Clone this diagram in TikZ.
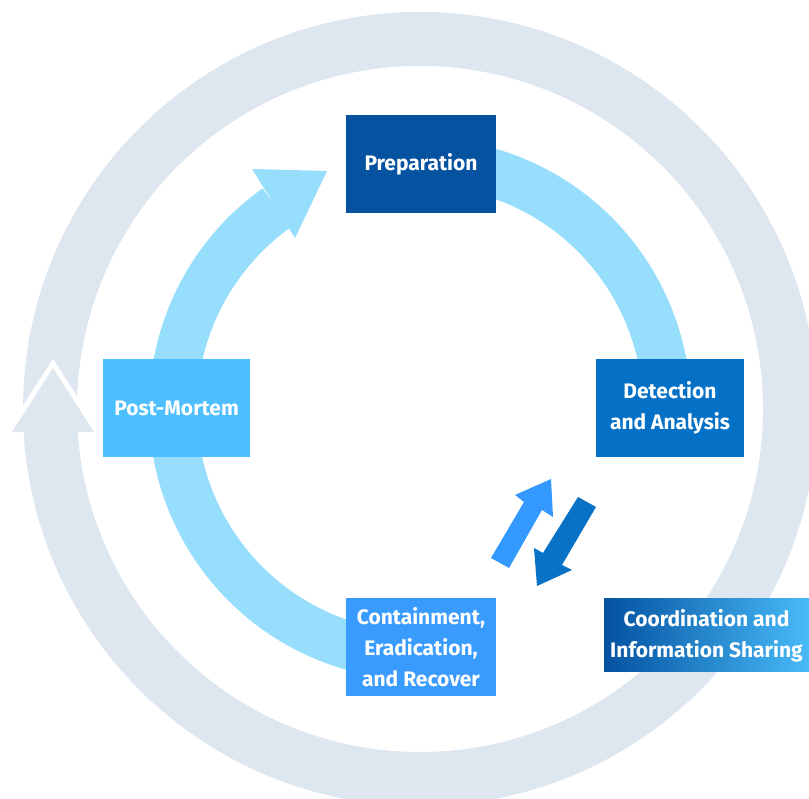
\documentclass[tikz,border=0pt]{standalone}
\usepackage{fontspec}
\setmainfont{Fira Sans}
\usepackage{xcolor}
\usetikzlibrary{calc}
\definecolor{ringgrey}{RGB}{222,230,240}
\definecolor{ringblue}{RGB}{151,222,253}
\definecolor{prepblue}{RGB}{4,82,160}
\definecolor{detblue}{RGB}{5,113,198}
\definecolor{contblue}{RGB}{58,155,255}
\definecolor{postblue}{RGB}{77,190,255}
\definecolor{coordA}{RGB}{4,82,160}
\definecolor{coordB}{RGB}{72,186,248}
\definecolor{upblue}{RGB}{51,153,255}
\definecolor{downblue}{RGB}{8,114,198}

\begin{document}
\begin{tikzpicture}[x=1pt,y=1pt,
    stage/.style={minimum width=150pt, minimum height=98pt, inner sep=0pt, align=center, text=white,
      font=\fontsize{21}{31}\selectfont\bfseries}]
  \useasboundingbox (0,0) rectangle (809,799);
  \clip (0,0) rectangle (809,799);
  \coordinate (outc) at (420,390);
  \coordinate (inc) at (420,390);
  % ---------- outer ring ----------
  \fill[ringgrey, even odd rule] (outc) circle[radius=397] (outc) circle[radius=343];
  \draw[white, line width=10pt, line join=miter] (12,367) -- (53,431) -- (94,367);
  \fill[ringgrey] (12,367) -- (53,431) -- (94,367) -- cycle;
  % ---------- inner ring ----------
  \fill[ringblue] ($(inc)+(125.5:271)$) arc[start angle=125.5, end angle=265, radius=271]
    -- ($(inc)+(265:223)$) arc[start angle=265, end angle=125.5, radius=223] -- cycle;
  \fill[ringblue] ($(inc)+(-5:271)$) arc[start angle=-5, end angle=75, radius=271]
    -- ($(inc)+(75:223)$) arc[start angle=75, end angle=-5, radius=223] -- cycle;
  \fill[ringblue] (252,630) -- (327,628) -- (295,561) -- cycle;
  % ---------- stages ----------
  \node[stage, fill=prepblue] (prep) at (421,635) {Preparation};
  \node[stage, fill=detblue, minimum width=148pt] (detect) at (670,391) {Detection\\and Analysis};
  \node[stage, fill=contblue] (contain) at (421,151.5) {Containment,\\Eradication,\\and Recover};
  \node[stage, fill=postblue, minimum width=147pt] (post) at (176.5,391) {Post-Mortem};
  \node[stage, minimum width=205pt, minimum height=73pt, left color=coordA, right color=coordB] (coord) at (706.5,163.5) {Coordination and\\Information Sharing};
  % ---------- exchange arrows ----------
  \fill[upblue] (491,241) -- (524,297) -- (515,304) -- (551,320) -- (553,282) -- (542,289) -- (509,231) -- cycle;
  \fill[downblue] (578,302) -- (543,246) -- (534,251) -- (537,213) -- (572,229) -- (562,234) -- (596,292) -- cycle;
\end{tikzpicture}
\end{document}
